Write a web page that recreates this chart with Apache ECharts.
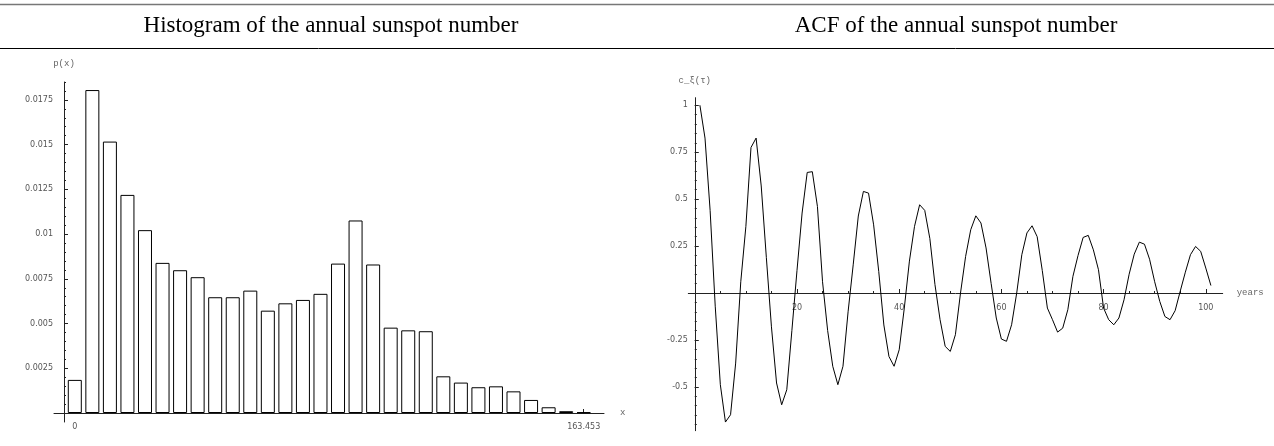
<!DOCTYPE html>
<html><head><meta charset="utf-8">
<script src="https://cdn.jsdelivr.net/npm/echarts@6/dist/echarts.min.js"></script>
<style>html,body{margin:0;padding:0;background:#fff}#c{width:1274px;height:446px}</style>
</head><body><div id="c"></div>
<script>
// ---- data ----
const histTitle = 'Histogram of the annual sunspot number';
const acfTitle = 'ACF of the annual sunspot number';
const histBinCenters = [0, 5.636, 11.273, 16.909, 22.545, 28.181, 33.818, 39.454, 45.090, 50.727,
  56.363, 61.999, 67.636, 73.272, 78.908, 84.544, 90.181, 95.817, 101.453, 107.090,
  112.726, 118.362, 123.999, 129.635, 135.271, 140.907, 146.544, 152.180, 157.816, 163.453];
const histDensity = [0.00185, 0.01805, 0.01517, 0.01219, 0.01022, 0.00839, 0.00798, 0.00759, 0.00647, 0.00647,
  0.00684, 0.00572, 0.00613, 0.00632, 0.00666, 0.00835, 0.01076, 0.00830, 0.00477, 0.00462,
  0.00457, 0.00205, 0.00170, 0.00144, 0.00149, 0.00121, 0.00073, 0.00032, 0.00010, 0.00004];
const histXTicks = [0, 163.453];
const histYTicks = [0.0025, 0.005, 0.0075, 0.01, 0.0125, 0.015, 0.0175];
const histXName = 'x';
const histYName = 'p(x)';

// ACF values, plotted at x = 1 .. 101
const acfValues = [1.0, 0.825, 0.44, -0.07, -0.488, -0.687, -0.648, -0.373, 0.06, 0.355,
  0.775, 0.825, 0.57, 0.19, -0.18, -0.479, -0.595, -0.515, -0.2, 0.12,
  0.426, 0.642, 0.646, 0.461, 0.06, -0.2, -0.39, -0.488, -0.39, -0.1,
  0.15, 0.41, 0.541, 0.532, 0.363, 0.115, -0.17, -0.338, -0.39, -0.302,
  -0.08, 0.17, 0.355, 0.47, 0.44, 0.29, 0.045, -0.142, -0.284, -0.311,
  -0.222, 0.0, 0.195, 0.337, 0.411, 0.373, 0.24, 0.05, -0.133, -0.245,
  -0.257, -0.169, 0.0, 0.204, 0.32, 0.358, 0.30, 0.12, -0.08, -0.142,
  -0.208, -0.187, -0.089, 0.089, 0.2, 0.296, 0.307, 0.23, 0.124, -0.08,
  -0.142, -0.169, -0.133, -0.036, 0.1, 0.207, 0.271, 0.26, 0.18, 0.06,
  -0.045, -0.125, -0.142, -0.094, 0.01, 0.111, 0.204, 0.248, 0.222, 0.133, 0.04];
const acfXTicks = [20, 40, 60, 80, 100];
const acfYTicks = [-0.5, -0.25, 0.25, 0.5, 0.75, 1];
const acfXName = 'years';
const acfYName = 'c_\u03be(\u03c4)';

// ---- helpers ----
function steps(a, b, s) { const r = []; for (let k = Math.round(a / s); k <= Math.round(b / s); k++) r.push(+(k * s).toFixed(6)); return r; }
const histYMinor = steps(0.0005, 0.0185, 0.0005);
const acfYMinor = steps(-0.7, 1.0, 0.05);
const acfXMinor = steps(5, 100, 5);

const lblStyle = { fontFamily: 'DejaVu Sans', fontSize: 8, color: '#555' };
const nameStyle = { fontFamily: 'Liberation Mono', fontSize: 9, color: '#666' };
const lineOn = (idx) => ({ show: true, onZero: true, onZeroAxisIndex: idx, lineStyle: { color: '#222', width: 1 } });
const noLine = { show: false, onZero: false };
const tickSt = { color: '#222', width: 1 };
const fmt = v => String(v);
const hidden = (gi, min, max) => ({ gridIndex: gi, type: 'value', min, max, show: false, axisLine: { onZero: false } });

// grids: 0 = histogram plot (edges on the axes), 1 = histogram axis lines (extended),
//        2 = ACF plot + axis lines, 3 = ACF x labels (bottom edge on x axis), 4 = ACF y labels (left edge on y axis)
// onZeroAxisIndex uses global axis indices
const chart = echarts.init(document.getElementById('c'), null, { renderer: 'canvas' });
chart.setOption({
  animation: false,
  backgroundColor: '#fff',
  graphic: [
    { type: 'line', shape: { x1: 0, y1: 4.5, x2: 1274, y2: 4.5 }, style: { stroke: '#777', lineWidth: 1.5 } },
    { type: 'line', shape: { x1: 0, y1: 48.5, x2: 1274, y2: 48.5 }, style: { stroke: '#000', lineWidth: 1 } },
    { type: 'text', x: 331, y: 26, style: { text: histTitle, textAlign: 'center', textVerticalAlign: 'middle', font: '23px "Liberation Serif"', fill: '#000' } },
    { type: 'text', x: 956, y: 26, style: { text: acfTitle, textAlign: 'center', textVerticalAlign: 'middle', font: '23px "Liberation Serif"', fill: '#000' } }
  ],
  grid: [
    { left: 64, right: 670, top: 82, bottom: 33 },
    { left: 54, right: 670, top: 82, bottom: 24 },
    { left: 688.3, right: 51.3, top: 97.7, bottom: 15.3 },
    { left: 688.3, right: 51.3, top: 97.7, bottom: 152.7 },
    { left: 694.8, right: 51.3, top: 97.7, bottom: 15.3 }
  ],
  xAxis: [
    // 0: histogram x (labels, ticks)
    { gridIndex: 0, type: 'value', min: -3.469, max: 169.97, position: 'bottom',
      axisLine: noLine, splitLine: { show: false },
      axisTick: { inside: true, length: 4, customValues: histXTicks, lineStyle: tickSt },
      axisLabel: { customValues: histXTicks, formatter: fmt, margin: 10, ...lblStyle } },
    // 1: histogram x axis line (extended to the left), on zero of yAxis 2
    { gridIndex: 1, type: 'value', min: -10, max: 540, position: 'bottom',
      axisLine: lineOn(2), splitLine: { show: false }, axisTick: { show: false }, axisLabel: { show: false },
      name: histXName, nameLocation: 'end', nameGap: 16, nameTextStyle: nameStyle },
    // 2: ACF x line + major ticks, on zero of yAxis 3
    { gridIndex: 2, type: 'value', min: -1.27, max: 103.31, position: 'bottom',
      axisLine: lineOn(3), splitLine: { show: false },
      axisTick: { inside: true, length: 4, customValues: acfXTicks, lineStyle: tickSt },
      axisLabel: { show: false },
      name: acfXName, nameLocation: 'end', nameGap: 14, nameTextStyle: nameStyle },
    // 3: ACF x minor ticks
    { gridIndex: 2, type: 'value', min: -1.27, max: 103.31, position: 'bottom',
      axisLine: { show: false, onZero: true, onZeroAxisIndex: 3 }, splitLine: { show: false },
      axisTick: { inside: true, length: 2, customValues: acfXMinor, lineStyle: tickSt },
      axisLabel: { show: false } },
    // 4: ACF x labels
    { gridIndex: 3, type: 'value', min: -1.27, max: 103.31, position: 'bottom',
      axisLine: noLine, splitLine: { show: false }, axisTick: { show: false },
      axisLabel: { customValues: acfXTicks, formatter: fmt, margin: 10.5, ...lblStyle } },
    // 5: hidden x for y-label grid
    hidden(4, 0, 100)
  ],
  yAxis: [
    // 0: histogram y (labels, major ticks)
    { gridIndex: 0, type: 'value', min: 0, max: 0.0185, position: 'left',
      axisLine: noLine, splitLine: { show: false },
      axisTick: { inside: true, length: 4, customValues: histYTicks, lineStyle: tickSt },
      axisLabel: { customValues: histYTicks, formatter: fmt, margin: 11, ...lblStyle } },
    // 1: histogram y minor ticks
    { gridIndex: 0, type: 'value', min: 0, max: 0.0185, position: 'left',
      axisLine: noLine, splitLine: { show: false },
      axisTick: { inside: true, length: 2, customValues: histYMinor, lineStyle: tickSt },
      axisLabel: { show: false } },
    // 2: histogram y axis line (extended below the x axis), on zero of xAxis 1
    { gridIndex: 1, type: 'value', min: -0.0005, max: 0.0185, position: 'left',
      axisLine: lineOn(1), splitLine: { show: false }, axisTick: { show: false }, axisLabel: { show: false },
      name: histYName, nameLocation: 'end', nameGap: 14, nameTextStyle: nameStyle },
    // 3: ACF y line + major ticks, on zero of xAxis 2
    { gridIndex: 2, type: 'value', min: -0.733, max: 1.04, position: 'left',
      axisLine: lineOn(2), splitLine: { show: false },
      axisTick: { inside: true, length: 4, customValues: acfYTicks, lineStyle: tickSt },
      axisLabel: { show: false },
      name: acfYName, nameLocation: 'end', nameGap: 13, nameTextStyle: nameStyle },
    // 4: ACF y minor ticks
    { gridIndex: 2, type: 'value', min: -0.733, max: 1.04, position: 'left',
      axisLine: { show: false, onZero: true, onZeroAxisIndex: 2 }, splitLine: { show: false },
      axisTick: { inside: true, length: 2, customValues: acfYMinor, lineStyle: tickSt },
      axisLabel: { show: false } },
    // 5: hidden y for x-label grid
    hidden(3, -0.733, 0),
    // 6: ACF y labels
    { gridIndex: 4, type: 'value', min: -0.733, max: 1.04, position: 'left',
      axisLine: noLine, splitLine: { show: false }, axisTick: { show: false },
      axisLabel: { customValues: acfYTicks, formatter: fmt, margin: 7, ...lblStyle } }
  ],
  series: [
    { type: 'bar', xAxisIndex: 0, yAxisIndex: 0, barWidth: 14,
      data: histBinCenters.map((x, i) => [x, histDensity[i]]),
      itemStyle: { color: '#fff', borderColor: '#000', borderWidth: 1 } },
    { type: 'line', xAxisIndex: 2, yAxisIndex: 3, showSymbol: false, symbol: 'none',
      data: acfValues.map((v, i) => [i + 1, v]),
      lineStyle: { color: '#000', width: 1 } }
  ]
});
</script></body></html>
